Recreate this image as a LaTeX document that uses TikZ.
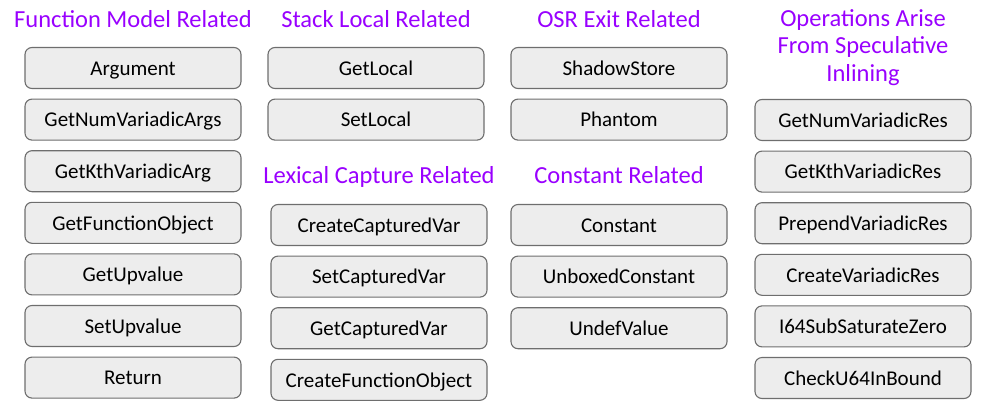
\documentclass[tikz,border=0pt]{standalone}
\usepackage{fontspec}
\setmainfont{Carlito}
\usepackage{xcolor}
\usetikzlibrary{positioning}
\definecolor{hdrpurple}{HTML}{9900FF}
\definecolor{boxgray}{HTML}{EDEDED}
\definecolor{linegray}{HTML}{6E6E6E}
\tikzstyle{op} = [rectangle, rounded corners=7pt, minimum width=216pt, minimum height=41pt, text height=14.5pt, text depth=0pt, text centered, draw=linegray, fill=boxgray, line width=1.1pt, font=\fontsize{21}{24}\selectfont]
\tikzstyle{group} = [text=hdrpurple, font=\fontsize{24.5}{27.5}\selectfont, align=center, anchor=base]

\begin{document}
\begin{tikzpicture}[x=1pt, y=-1pt, node distance=51.6pt]
      \useasboundingbox (0,0) rectangle (991,413);
      % function model
      \node (fm)[group] at (133,27){Function Model Related};
      \node (fm1)[op] at (133,68){Argument};
      \node (fm2)[op, below of=fm1]{GetNumVariadicArgs};
      \node (fm3)[op, below of=fm2]{GetKthVariadicArg};
      \node (fm4)[op, below of=fm3]{GetFunctionObject};
      \node (fm5)[op, below of=fm4]{GetUpvalue};
      \node (fm6)[op, below of=fm5]{SetUpvalue};
      \node (fm7)[op, below of=fm6]{Return};
      % stack local
      \node (sl)[group] at (376,27){Stack Local Related};
      \node (sl1)[op] at (376,68){GetLocal};
      \node (sl2)[op, below of=sl1]{SetLocal};
      % lexical capture
      \node (lc)[group] at (379,183){Lexical Capture Related};
      \node (lc1)[op] at (379,225){CreateCapturedVar};
      \node (lc2)[op, below of=lc1]{SetCapturedVar};
      \node (lc3)[op, below of=lc2]{GetCapturedVar};
      \node (lc4)[op, below of=lc3]{CreateFunctionObject};
      % osr exit
      \node (osr)[group] at (619,27){OSR Exit Related};
      \node (osr1)[op] at (619,68){ShadowStore};
      \node (osr2)[op, below of=osr1]{Phantom};
      % constants
      \node (cst)[group] at (619,183){Constant Related};
      \node (cst1)[op] at (619,225){Constant};
      \node (cst2)[op, below of=cst1]{UnboxedConstant};
      \node (cst3)[op, below of=cst2]{UndefValue};
      % speculative inlining (base = last line)
      \node (si)[group] at (863,81){Operations Arise\\From Speculative\\Inlining};
      \node (si1)[op] at (863,120){GetNumVariadicRes};
      \node (si2)[op, below of=si1]{GetKthVariadicRes};
      \node (si3)[op, below of=si2]{PrependVariadicRes};
      \node (si4)[op, below of=si3]{CreateVariadicRes};
      \node (si5)[op, below of=si4]{I64SubSaturateZero};
      \node (si6)[op, below of=si5]{CheckU64InBound};
    \end{tikzpicture}
\end{document}
